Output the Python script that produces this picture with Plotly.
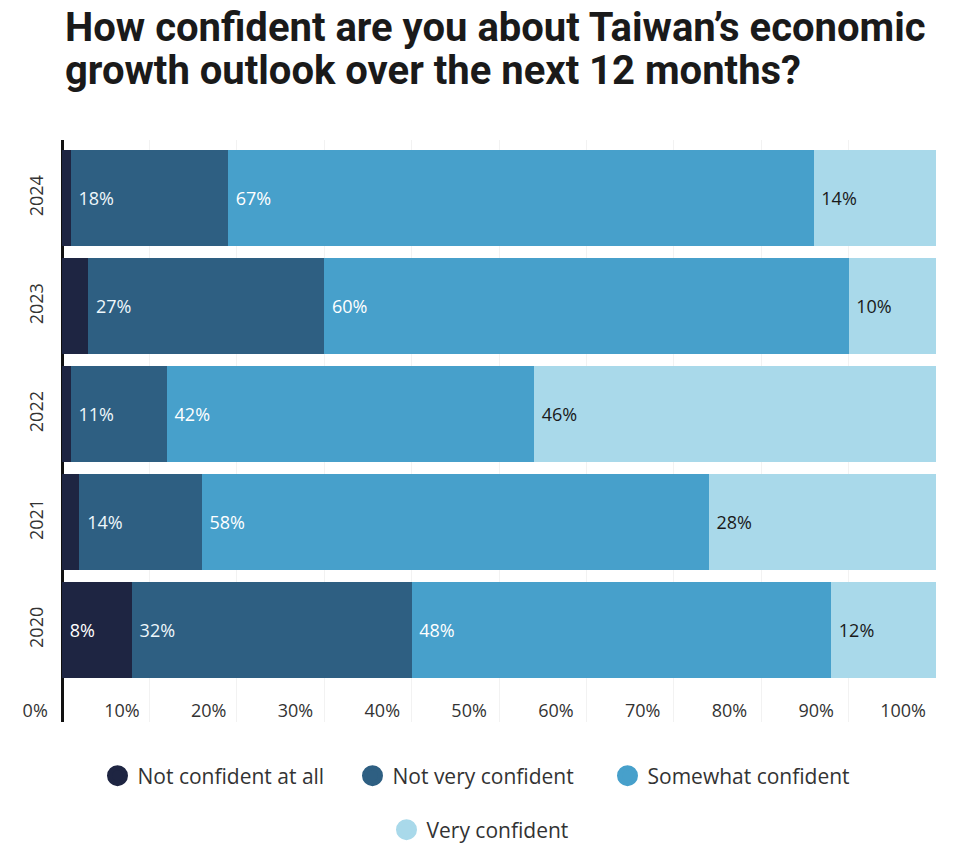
import plotly.graph_objects as go

years = ['2020', '2021', '2022', '2023', '2024']
not_at_all = [8, 2, 1, 3, 1]
not_very = [32, 14, 11, 27, 18]
somewhat = [48, 58, 42, 60, 67]
very = [12, 28, 46, 10, 14]
series_names = ['Not confident at all', 'Not very confident', 'Somewhat confident', 'Very confident']
colors = ['#1e2542', '#2e5f82', '#47a0cb', '#a9d9ea']
text_colors = ['#ffffff', '#eef7fb', '#ffffff', '#1a1a1a']
tick_vals = [0, 10, 20, 30, 40, 50, 60, 70, 80, 90, 100]
tick_text = [f'{v}%' for v in tick_vals]
title_lines = ["How confident are you about Taiwan’s economic",
               "growth outlook over the next 12 months?"]

series = [not_at_all, not_very, somewhat, very]

W, H = 960, 847
ML, MR, MT, MB = 10, 24, 140, 125
PW, PH = W - ML - MR, H - MT - MB

fig = go.Figure()
NB = '\u00a0'
for name, vals, col, tcol in zip(series_names, series, colors, text_colors):
    labels = [(NB + f'{v}%') if v >= 5 else '' for v in vals]
    fig.add_trace(go.Bar(
        y=years, x=vals, name=name, orientation='h',
        marker=dict(color=col, line=dict(width=0)),
        text=labels, textposition='inside', insidetextanchor='start',
        textangle=0, constraintext='none',
        textfont=dict(family='Open Sans', size=18, color=tcol),
        showlegend=False, hoverinfo='skip',
    ))

for i, (name, col) in enumerate(zip(series_names, colors)):
    fig.add_trace(go.Scatter(
        x=[None], y=[None], mode='markers', name=name,
        marker=dict(color=col, size=25, symbol='circle', line=dict(color=col, width=5)),
        xaxis='x2', legend='legend' if i < 3 else 'legend2',
        showlegend=True,
    ))

for line, ypx in zip(title_lines, [27, 71]):
    fig.add_annotation(
        text=f'<b>{line}</b>', xref='paper', yref='paper',
        x=(63 - ML) / PW, y=(H - MB - ypx) / PH, xanchor='left', yanchor='middle',
        showarrow=False,
        font=dict(family='Roboto', size=40, color='#1a1a1a'),
    )

fig.update_layout(
    width=W, height=H,
    paper_bgcolor='white', plot_bgcolor='white',
    barmode='stack', bargap=0.11,
    margin=dict(l=ML, r=MR, t=MT, b=MB),
    xaxis=dict(
        range=[-5.95, 100], showticklabels=False, ticks='',
        showgrid=True, gridcolor='#f2f2f2', gridwidth=1, tick0=0, dtick=10,
        zeroline=True, zerolinecolor='#111111', zerolinewidth=3,
        showline=False, fixedrange=True,
    ),
    xaxis2=dict(
        overlaying='x', side='bottom', anchor='free', position=(H - MB - 698) / PH,
        range=[-2.9, 103.8], tickvals=tick_vals, ticktext=tick_text,
        ticks='', showgrid=False, zeroline=False,
        showline=False,
        tickfont=dict(family='Open Sans', size=18, color='#333333'),
    ),
    yaxis=dict(
        type='category', categoryorder='array', categoryarray=years,
        range=[-0.852, 4.542], tickangle=-90,
        anchor='free', position=(47 - ML) / PW, ticklabelstandoff=0,
        ticks='', showgrid=False, zeroline=False, showline=False,
        tickfont=dict(family='Open Sans', size=18, color='#333333'),
    ),
    legend=dict(
        orientation='h', x=0.5, xanchor='center', xref='container',
        y=1 - 776 / H, yanchor='middle', yref='container',
        font=dict(family='Open Sans', size=21, color='#333333'),
        entrywidth=210,
        itemsizing='trace', traceorder='normal', bgcolor='rgba(0,0,0,0)',
    ),
    legend2=dict(
        orientation='h', x=0.5, xanchor='center', xref='container',
        y=1 - 830 / H, yanchor='middle', yref='container',
        font=dict(family='Open Sans', size=21, color='#333333'),
        itemsizing='trace', traceorder='normal', bgcolor='rgba(0,0,0,0)',
    ),
)

fig.write_html('out.html')
